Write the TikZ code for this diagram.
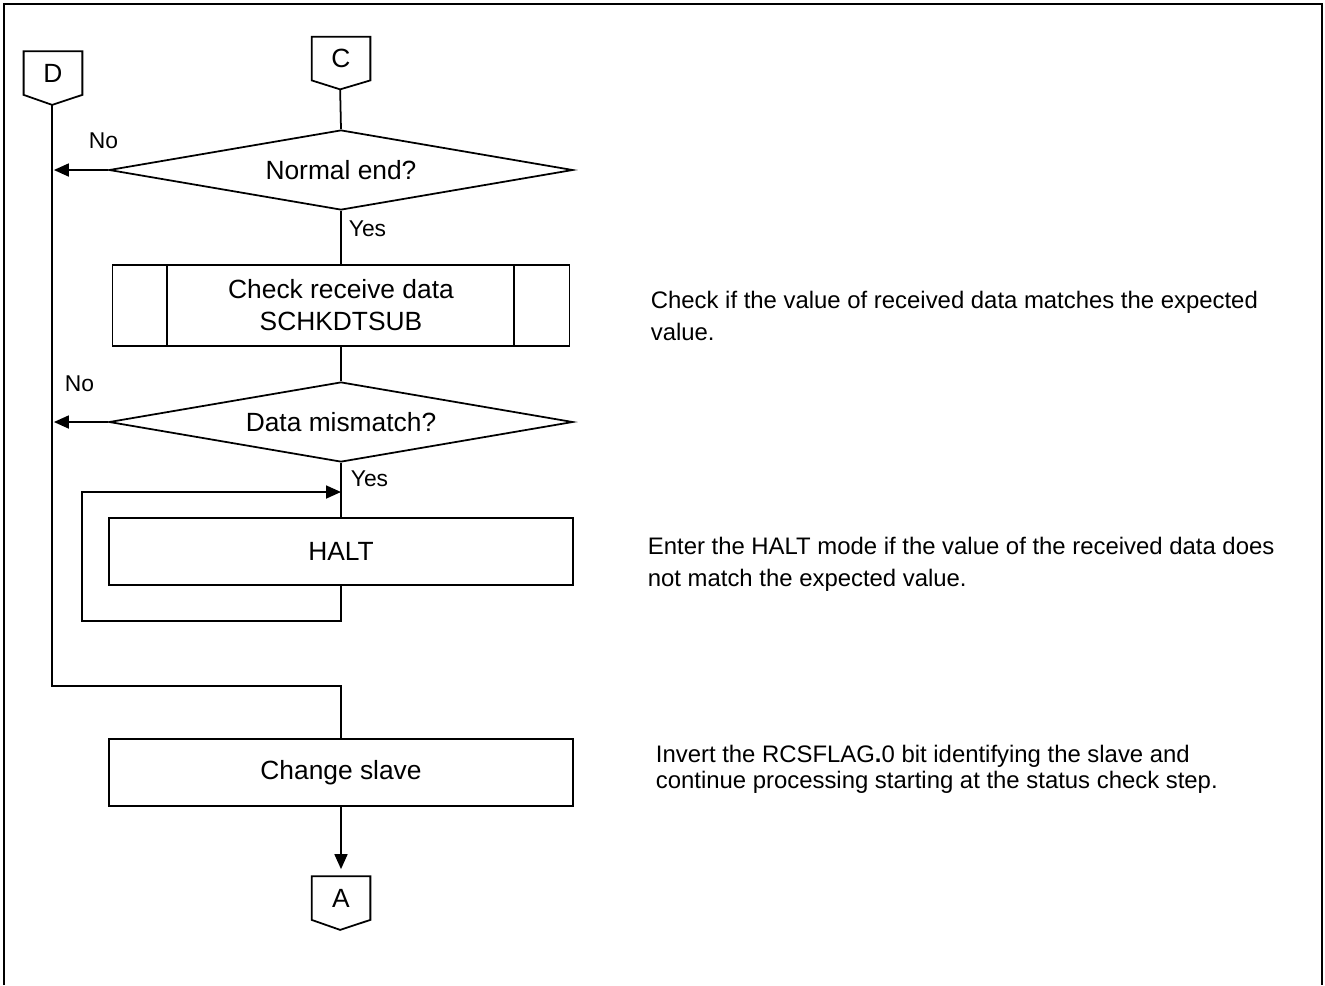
\documentclass[tikz,border=0pt]{standalone}
\usepackage{fontspec}
\setmainfont{Liberation Sans}
\usepackage{tikz}
\usetikzlibrary{shapes.geometric,arrows.meta}

\begin{document}
\begin{tikzpicture}[x=0.02cm, y=-0.02cm, line width=1pt,
    box/.style={draw, rectangle, minimum width=9.28cm, minimum height=1.34cm, inner sep=0pt, align=center, font=\fontsize{15}{18.2}\selectfont},
    decision/.style={draw, diamond, shape aspect=5.8, minimum width=9.28cm, minimum height=1.6cm, inner sep=0pt, font=\fontsize{15}{18}\selectfont},
    offpage/.style={minimum width=1.14cm, minimum height=0.84cm, inner sep=0pt, font=\fontsize{15}{18}\selectfont},
    flow/.style={-{Triangle[length=0.3cm,width=0.26cm]}},
    lbl/.style={inner sep=0pt, font=\fontsize{13}{15}\selectfont},
    note/.style={anchor=west, align=left, inner sep=0pt, font=\fontsize{13.6}{18.2}\selectfont}]

    \useasboundingbox (0,0) rectangle (1325,985);
    % frame
    \draw[line width=1.5pt] (4,985) -- (4,4) -- (1322,4) -- (1322,985);

    % off-page connectors
    \node[offpage] (C) at (341,58.5) {C};
    \draw (C.north west) -- (C.south west) -- ++(28.5,9) coordinate (Ctip) -- (C.south east) -- (C.north east) -- cycle;
    \node[offpage] (D) at (53,73) {D};
    \draw (D.north west) -- (D.south west) -- ++(28.5,10) coordinate (Dtip) -- (D.south east) -- (D.north east) -- cycle;

    \node[decision] (normal) at (341,170) {Normal end?};
    \node[box, minimum width=9.14cm, minimum height=1.62cm] (check) at (341,305.5) {Check receive data\\SCHKDTSUB};
    \draw ([xshift=1.1cm]check.north west) -- ([xshift=1.1cm]check.south west);
    \draw ([xshift=-1.12cm]check.north east) -- ([xshift=-1.12cm]check.south east);
    \node[decision] (mismatch) at (341,422) {Data mismatch?};
    \node[box] (halt) at (341,551.5) {HALT};
    \node[box] (change) at (341,772.5) {Change slave};

    \node[offpage] (A) at (341,898) {A};
    \draw (A.north west) -- (A.south west) -- ++(28.5,10) -- (A.south east) -- (A.north east) -- cycle;

    % connectors
    \draw (Ctip) -- (normal.north);
    \draw[flow, shorten >=1pt] (normal.west) -- (normal.west -| Dtip);
    \draw (normal.south) -- (check.north);
    \draw (check.south) -- (mismatch.north);
    \draw[flow, shorten >=1pt] (mismatch.west) -- (mismatch.west -| Dtip);
    \draw (mismatch.south) -- (halt.north);

    \coordinate (loopin) at (341,492);
    \coordinate (loopcorner) at (82,621);
    \draw[flow] (halt.south) |- (loopcorner) |- (loopin);

    \coordinate (merge) at (341,686);
    \draw (Dtip) |- (merge) -- (change.north);
    \draw[flow, shorten >=0.14cm] (change.south) -- (A.north);

    % branch labels
    \node[lbl, anchor=base west] (no1) at (88,148) {No};
    \node[lbl, anchor=base west] (no2) at (64,391) {No};
    \node[lbl, anchor=base west] (yes1) at (348,236) {Yes};
    \node[lbl, anchor=base west] (yes2) at (350,486) {Yes};

    % notes
    \node[note] (n1) at (650,316) {Check if the value of received data matches the expected\\value.};
    \node[note] (n2) at (647,564) {Enter the HALT mode if the value of the received data does\\not match the expected value.};
    \node[note, font=\fontsize{13.6}{14.8}\selectfont] (n3) at (655,769) {Invert the RCSFLAG\textbf{.}0 bit identifying the slave and\\continue processing starting at the status check step.};
\end{tikzpicture}
\end{document}
